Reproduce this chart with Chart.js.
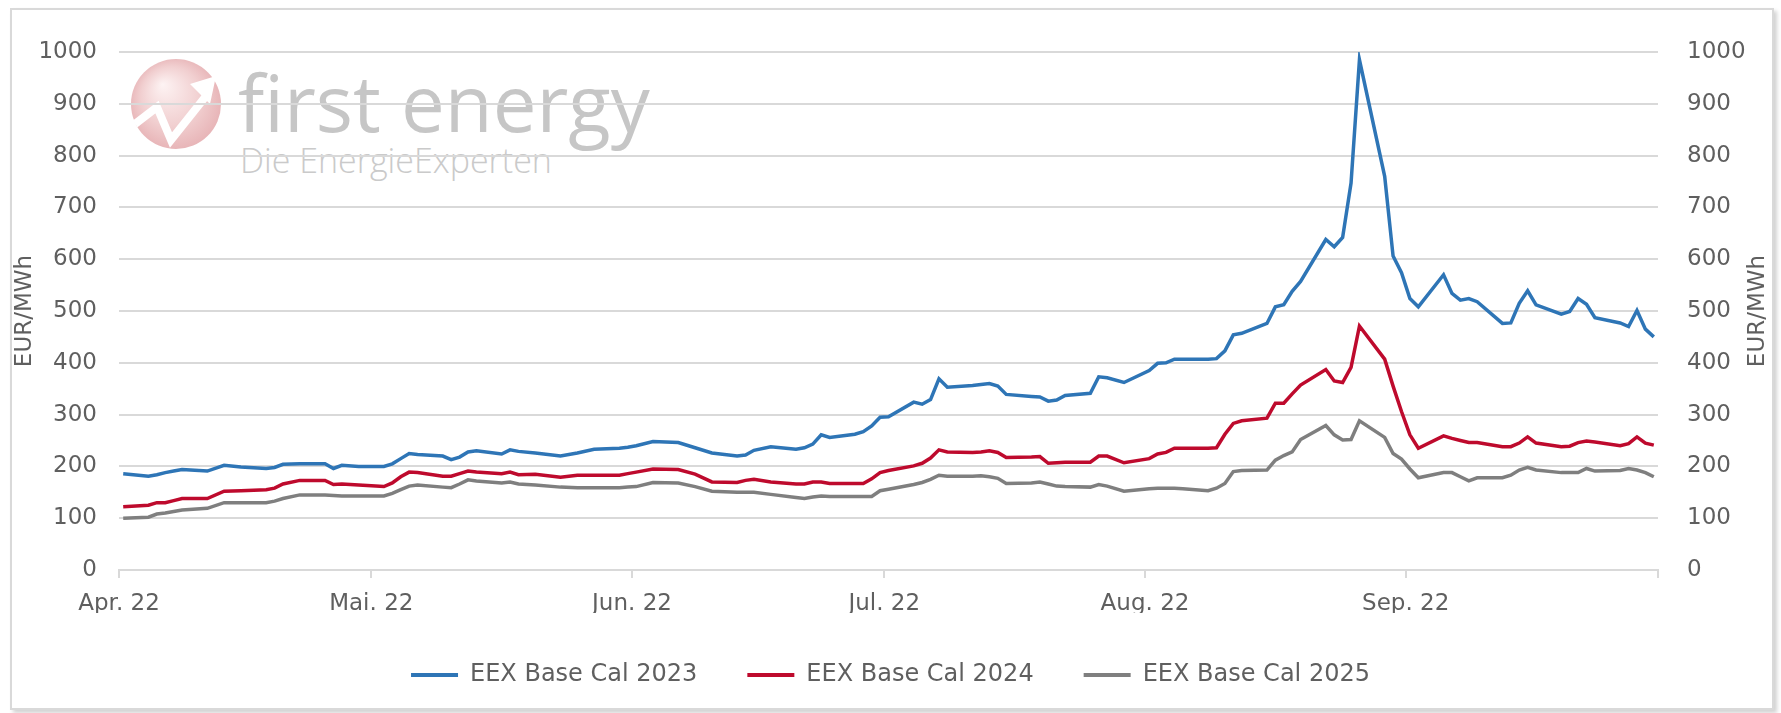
<!DOCTYPE html>
<html lang="de">
<head>
<meta charset="utf-8">
<script src="https://cdn.jsdelivr.net/npm/chart.js"></script>
<style>
  html, body { margin: 0; padding: 0; background: #fff; }
  body { width: 1781px; height: 713px; position: relative; overflow: hidden; }
  .frame {
    position: absolute; left: 10px; top: 8px; width: 1760px; height: 698px;
    border: 2px solid #d9d9d9; box-shadow: 3px 3px 4px rgba(0, 0, 0, 0.18);
  }
  .logo { position: absolute; left: 130px; top: 58px; }
  .brand {
    position: absolute; left: 238px; top: 63px; line-height: 1;
    font-family: "Open Sans", sans-serif; font-weight: 400; font-size: 78px; color: #c6c6c6;
  }
  .slogan {
    position: absolute; left: 240px; top: 143px; line-height: 1;
    font-family: "Open Sans", sans-serif; font-weight: 300; font-size: 34px; color: #cacaca;
  }
  canvas { position: absolute; left: 0; top: 0; }
</style>
</head>
<body>
  <div class="frame"></div>
  <svg class="logo" width="92" height="92" viewBox="0 0 92 92">
    <defs>
      <radialGradient id="pink" cx="50%" cy="50%" r="55%" fx="35%" fy="28%">
        <stop offset="0%" stop-color="#fdf3f3"/>
        <stop offset="60%" stop-color="#f1cfd0"/>
        <stop offset="100%" stop-color="#e6b0b3"/>
      </radialGradient>
    </defs>
    <circle cx="46" cy="46" r="45" fill="url(#pink)"/>
    <polyline points="5,66 27,49 41,82 76,38" fill="none" stroke="#fff" stroke-width="8" stroke-linejoin="miter"/>
    <polygon points="60,26 86,18 80,46" fill="#fff"/>
  </svg>
  <div class="brand">first energy</div>
  <div class="slogan">Die EnergieExperten</div>
  <canvas id="grafico" width="1781" height="713"></canvas>

<script>
  // Handelstage als Tage ab 1. April 2022
  var days = [0, 3, 4, 5, 6, 7, 10, 12, 14, 17, 18, 19, 21, 24, 25, 26, 28,
    31, 32, 33, 34, 35, 38, 39, 40, 41, 42, 45, 46, 47, 49, 52, 54, 56, 59, 60,
    61, 63, 66, 68, 70, 73, 74, 75, 77, 80, 81, 82, 83, 84, 87, 88, 89, 90,
    91, 94, 95, 96, 97, 98, 101, 102, 103, 104, 105, 108, 109, 110, 111, 112,
    115, 116, 117, 119, 122, 123, 124, 125, 126, 129, 130, 131, 132, 133,
    136, 137, 138, 139, 140, 143, 144, 145, 146, 147, 150, 151, 152, 153, 154,
    157, 158, 159, 160, 161, 164, 165, 166, 167, 168, 171, 172, 173, 174, 175,
    178, 179, 180, 181, 182];

  var cal2023 = [186, 181, 184, 188, 191, 194, 191, 202, 199, 196, 198, 204, 205,
    205, 196, 202, 200, 200, 205, 215, 225, 223, 220, 213, 218, 228, 230,
    224, 232, 229, 226, 220, 226, 233, 235, 237, 240, 248, 246, 236, 226,
    220, 222, 231, 238, 233, 236, 243, 261, 256, 262, 267, 278, 295, 296,
    324, 320, 329, 369, 353, 356, 358, 360, 355, 339, 335, 334, 326, 328, 337,
    341, 373, 371, 362, 385, 399, 400, 407, 407, 407, 408, 423, 454, 457,
    476, 508, 512, 538, 557, 638, 624, 642, 747, 985, 760, 606, 574, 524, 508,
    570, 534, 521, 524, 518, 476, 477, 515, 539, 512, 494, 499, 524, 513, 487,
    477, 470, 501, 465, 450];

  var cal2024 = [122, 125, 130, 130, 134, 138, 138, 152, 153, 155, 158, 166, 173,
    173, 165, 166, 164, 161, 168, 180, 189, 188, 181, 181, 186, 191, 189,
    186, 189, 184, 185, 179, 183, 183, 183, 186, 189, 195, 194, 185, 170,
    169, 173, 175, 170, 166, 166, 170, 170, 167, 167, 167, 176, 188, 192,
    201, 206, 216, 232, 228, 227, 228, 230, 227, 217, 218, 219, 206, 207, 208,
    208, 220, 220, 207, 215, 224, 227, 235, 235, 235, 236, 262, 283, 288,
    293, 322, 322, 340, 357, 387, 365, 362, 391, 471, 407, 355, 306, 261, 235,
    259, 254, 250, 246, 246, 238, 238, 245, 257, 245, 238, 239, 246, 249, 247,
    240, 244, 257, 245, 241];

  var cal2025 = [100, 102, 108, 110, 113, 116, 119, 130, 130, 130, 133, 138, 145,
    145, 144, 143, 143, 143, 148, 155, 162, 164, 160, 159, 166, 174, 172,
    168, 170, 166, 164, 160, 159, 159, 159, 160, 161, 169, 168, 161, 152,
    150, 150, 150, 146, 140, 138, 141, 143, 142, 142, 142, 142, 153, 156,
    165, 169, 175, 183, 181, 181, 182, 180, 177, 167, 168, 170, 166, 162, 161,
    160, 165, 162, 152, 157, 158, 158, 158, 157, 153, 158, 167, 190, 192,
    193, 212, 221, 228, 252, 279, 261, 251, 252, 288, 256, 225, 214, 195, 178,
    188, 188, 180, 172, 178, 178, 183, 193, 198, 193, 188, 188, 188, 196, 191,
    192, 196, 193, 188, 180];

  // Monatsanfaenge und Beschriftung der Zeitachse
  var monthDays = [0, 30, 61, 91, 122, 153, 183];
  var monthLabels = ['Apr. 22', 'Mai. 22', 'Jun. 22', 'Jul. 22', 'Aug. 22', 'Sep. 22', ''];

  var seriesNames = ['EEX Base Cal 2023', 'EEX Base Cal 2024', 'EEX Base Cal 2025'];
  var seriesColors = ['#2e75b6', '#be0a2d', '#7f7f7f'];

  var fontFamily = '"DejaVu Sans", sans-serif';
  var textColor = '#5f5f5f';
  var gridColor = '#d9d9d9';

  function puntos(values) {
    // Excel setzt jeden Tag in die Mitte seines Tagesfeldes
    return days.map(function (d, i) { return { x: d + 0.5, y: values[i] }; });
  }

  function sinTrenner(value) { return String(value); }

  // Legende: feste Hoehe, damit die Zeichenflaeche passt
  var legendHeight = {
    id: 'legendHeight',
    beforeInit: function (chart) {
      var fit = chart.legend.fit;
      chart.legend.fit = function () {
        fit.call(chart.legend);
        this.height = 100;
      };
    }
  };

  // rechter Achsentitel liest von unten nach oben
  var rightTitle = {
    id: 'rightTitle',
    afterDraw: function (chart) {
      var ctx = chart.ctx, a = chart.chartArea;
      ctx.save();
      ctx.translate(1758, (a.top + a.bottom) / 2);
      ctx.rotate(-Math.PI / 2);
      ctx.font = '23px ' + fontFamily;
      ctx.fillStyle = textColor;
      ctx.textAlign = 'center';
      ctx.textBaseline = 'middle';
      ctx.fillText('EUR/MWh', 0, 0);
      ctx.restore();
    }
  };

  Chart.defaults.font.family = fontFamily;
  Chart.defaults.font.size = 23;
  Chart.defaults.color = textColor;

  var datasets = [cal2023, cal2024, cal2025].map(function (values, i) {
    return {
      label: seriesNames[i],
      data: puntos(values),
      borderColor: seriesColors[i],
      backgroundColor: seriesColors[i],
      borderWidth: 3.5,
      pointRadius: 0,
      tension: 0
    };
  });

  new Chart(document.getElementById('grafico'), {
    type: 'line',
    data: { datasets: datasets },
    plugins: [legendHeight, rightTitle],
    options: {
      responsive: false,
      animation: false,
      layout: { padding: { top: 52, left: 0, right: 0, bottom: 0 } },
      plugins: {
        tooltip: { enabled: false },
        legend: {
          position: 'bottom',
          labels: {
            boxWidth: 47,
            boxHeight: 4,
            padding: 50,
            color: textColor,
            font: { size: 24 },
            generateLabels: function (chart) {
              return Chart.defaults.plugins.legend.labels.generateLabels(chart).map(function (l) {
                l.lineWidth = 0;
                return l;
              });
            }
          }
        }
      },
      scales: {
        x: {
          type: 'linear',
          min: 0,
          max: 183,
          afterBuildTicks: function (scale) {
            scale.ticks = monthDays.map(function (v) { return { value: v }; });
          },
          afterFit: function (scale) { scale.height = 43; },
          ticks: {
            autoSkip: false,
            maxRotation: 0,
            padding: 12,
            callback: function (value, index) { return monthLabels[index]; }
          },
          grid: { drawOnChartArea: false, drawTicks: true, tickLength: 8, color: gridColor, lineWidth: 2 },
          border: { display: true, color: gridColor, width: 2 }
        },
        y: {
          position: 'left',
          min: 0,
          max: 1000,
          afterFit: function (scale) { scale.width = 119; },
          ticks: { stepSize: 100, padding: 22, callback: sinTrenner },
          grid: { color: gridColor, lineWidth: 2, drawTicks: false },
          border: { display: false },
          title: { display: true, text: 'EUR/MWh', padding: { top: 11, bottom: 0 } }
        },
        y2: {
          position: 'right',
          min: 0,
          max: 1000,
          afterFit: function (scale) { scale.width = 123; },
          ticks: { stepSize: 100, padding: 29, callback: sinTrenner },
          grid: { drawOnChartArea: false, drawTicks: false },
          border: { display: false }
        }
      }
    }
  });
</script>
</body>
</html>
